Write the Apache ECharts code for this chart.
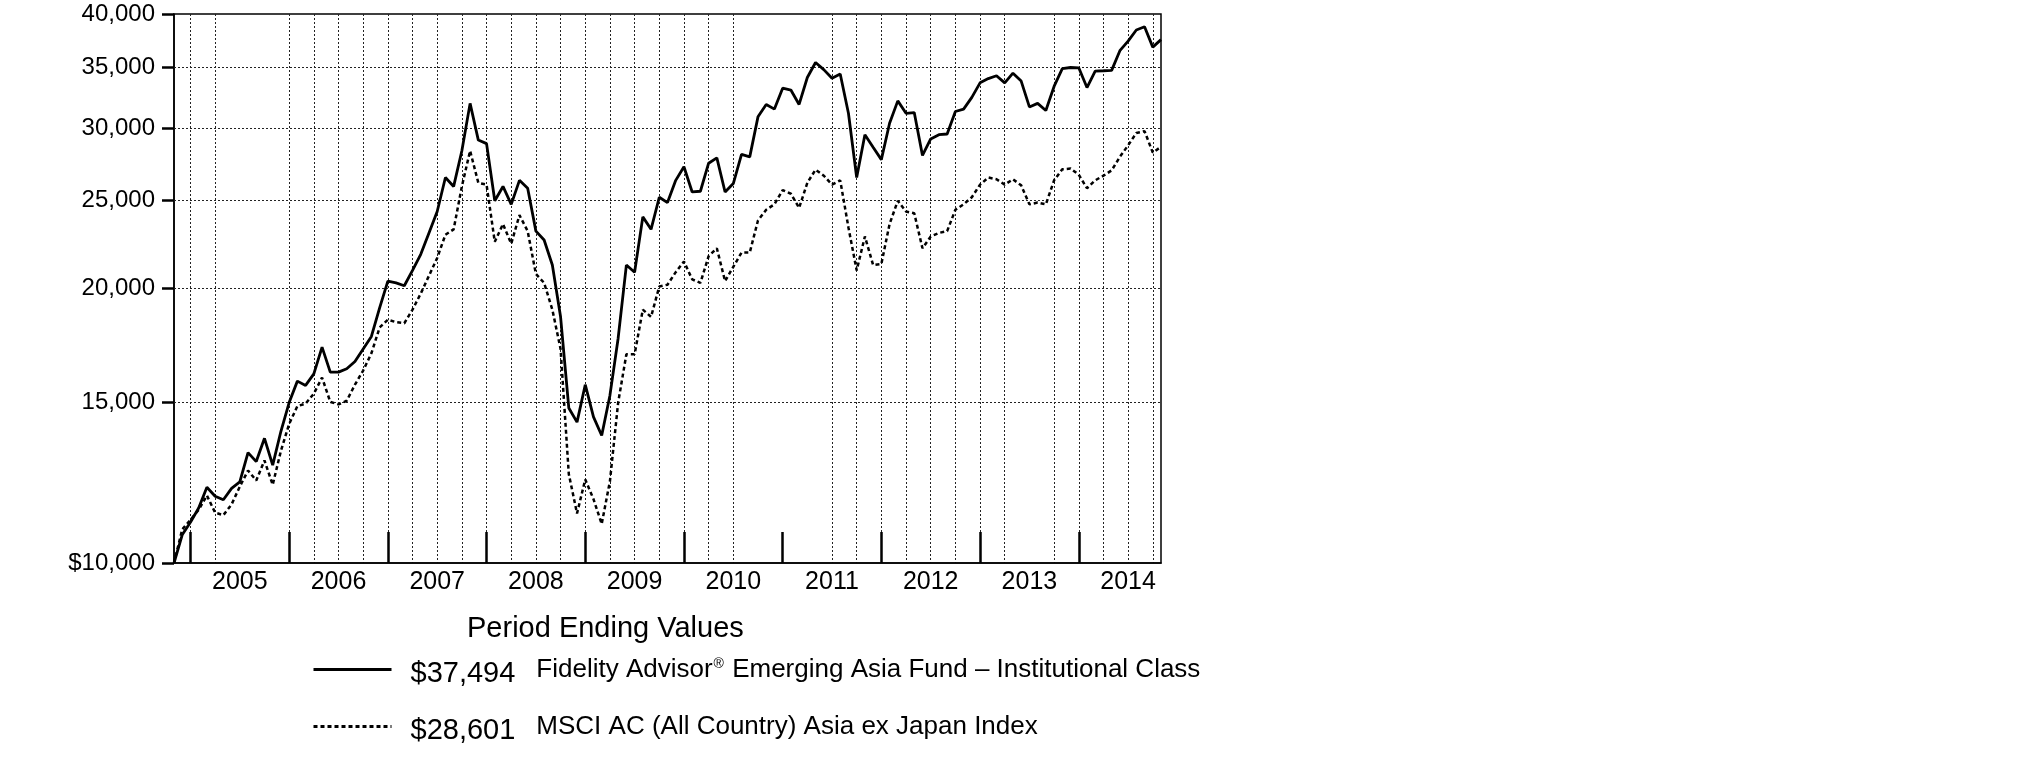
<!DOCTYPE html>
<html>
<head>
<meta charset="utf-8">
<script src="https://cdn.jsdelivr.net/npm/echarts@6/dist/echarts.min.js"></script>
<style>
html,body{margin:0;padding:0;background:#fff;}
#chart{width:2025px;height:773px;}
</style>
</head>
<body>
<div id="chart"></div>
<script>
// ---------- data ----------
const startYear = 2004, startMonth = 10, monthCount = 121; // Oct 2004 .. Oct 2014 (month ends)
const months = [];
for (let k = 0; k < monthCount; k++) {
  const m = startMonth - 1 + k;
  months.push((startYear + Math.floor(m / 12)) + '-' + String(m % 12 + 1).padStart(2, '0'));
}

const seriesNames = [
  'Fidelity Advisor\u00AE Emerging Asia Fund \u2013 Institutional Class',
  'MSCI AC (All Country) Asia ex Japan Index'
];

const fundValues = [
  10000, 10738, 11083, 11490, 12106, 11838, 11732, 12073, 12271, 13214, 12919, 13700,
  12803, 13946, 14995, 15829, 15658, 16120, 17246, 16193, 16193, 16332, 16634, 17169,
  17720, 19046, 20376, 20284, 20138, 20933, 21800, 23014, 24292, 26470, 25880, 28318,
  31918, 29094, 28834, 24958, 25880, 24735, 26280, 25763, 23118, 22604, 21220, 18620,
  14791, 14271, 15687, 14461, 13800, 15268, 17642, 21220, 20841, 23964, 23223, 25184,
  24846, 26280, 27196, 25521, 25568, 27442, 27816, 25521, 26069, 28064, 27887, 30851,
  31832, 31461, 33163, 33013, 31832, 34075, 35390, 34758, 34013, 34384, 31131, 26470,
  29490, 28574, 27691, 30356, 32120, 31131, 31187, 27988, 29173, 29490, 29543, 31272,
  31461, 32410, 33617, 33982, 34229, 33617, 34446, 33770, 31632, 31918, 31348, 33313,
  34852, 34946, 34920, 33223, 34633, 34660, 34690, 36460, 37358, 38418, 38730, 36790,
  37494
];

const indexValues = [
  10000, 10885, 11153, 11438, 11859, 11356, 11284, 11595, 12128, 12631, 12316, 12954,
  12183, 13274, 14207, 14860, 14954, 15337, 15972, 15022, 14927, 15063, 15687, 16259,
  16983, 18123, 18486, 18369, 18320, 18961, 19746, 20654, 21605, 22911, 23223, 25880,
  28318, 26115, 25997, 22502, 23536, 22395, 24073, 23118, 20748, 20284, 18961, 17169,
  12518, 11335, 12349, 11752, 11035, 12294, 14995, 16937, 16937, 18961, 18620, 20101,
  20192, 20841, 21411, 20468, 20284, 21702, 22137, 20376, 21125, 21899, 21899, 23748,
  24402, 24735, 25637, 25407, 24512, 26115, 27001, 26590, 25997, 26280, 23329, 20933,
  22809, 21220, 21278, 23536, 24958, 24292, 24183, 22137, 22809, 23014, 23118, 24402,
  24735, 25184, 25997, 26470, 26351, 25997, 26351, 25950, 24735, 24846, 24735, 26280,
  27025, 27074, 26661, 25763, 26280, 26590, 26952, 27887, 28707, 29620, 29754, 28191,
  28601
];

const yTicks = [10000, 15000, 20000, 25000, 30000, 35000, 40000];
const yGridLines = [15000, 20000, 25000, 30000, 35000];
const quarterLines = [
  '2004-12', '2005-03', '2005-12', '2006-03', '2006-06', '2006-09', '2006-12',
  '2007-03', '2007-06', '2007-09', '2007-12', '2008-03', '2008-06', '2008-09', '2008-12',
  '2009-03', '2009-06', '2009-09', '2009-12', '2010-03', '2010-06',
  '2011-06', '2011-09', '2011-12', '2012-03', '2012-06', '2012-09', '2012-12',
  '2013-03', '2013-09', '2013-12', '2014-03', '2014-06', '2014-09'
];
const titleText = 'Period Ending Values';

// ---------- chart ----------
const FONT = '"Liberation Sans", Arial, Helvetica, sans-serif';
const fmtMoney = v => '$' + Math.round(v).toLocaleString('en-US');
const chart = echarts.init(document.getElementById('chart'), null, { renderer: 'canvas' });

const option = {
  animation: false,
  backgroundColor: '#fff',
  textStyle: { fontFamily: FONT, color: '#000' },
  title: {
    text: titleText,
    left: 467, top: 614, padding: 0,
    textStyle: { fontFamily: FONT, fontSize: 29, fontWeight: 'normal', color: '#000' }
  },
  legend: {
    orient: 'vertical',
    left: 312, top: 651, padding: 0,
    itemWidth: 78, itemHeight: 14, itemGap: 20,
    selectedMode: false,
    data: seriesNames,
    itemStyle: { opacity: 0, color: 'rgba(0,0,0,0)', borderWidth: 0 },
    lineStyle: { width: 3, color: '#000' },
    formatter: function (name) {
      const idx = seriesNames.indexOf(name);
      const vals = idx === 0 ? fundValues : indexValues;
      const val = fmtMoney(vals[vals.length - 1]);
      const parts = name.split('\u00AE');
      let label = '{v|' + val + '}{n|' + parts[0] + '}';
      if (parts.length > 1) label += '{s|\u00AE}{n|' + parts[1] + '}';
      return label;
    },
    textStyle: {
      fontFamily: FONT, color: '#000',
      rich: {
        v: { fontFamily: FONT, fontSize: 29, color: '#000', padding: [8, 21, 0, 14], lineHeight: 34 },
        n: { fontFamily: FONT, fontSize: 26, color: '#000', lineHeight: 34 },
        s: { fontFamily: FONT, fontSize: 14, color: '#000', padding: [0, 1, 10, 1], lineHeight: 34 }
      }
    }
  },
  grid: {
    left: 174, right: 864, top: 14, bottom: 210,
    show: true, borderColor: '#000', borderWidth: 1.5, backgroundColor: 'transparent',
    containLabel: false
  },
  xAxis: {
    type: 'category',
    data: months,
    boundaryGap: false,
    axisLine: { show: true, lineStyle: { color: '#000', width: 1.5 } },
    axisTick: {
      show: true, inside: true, length: 31,
      interval: function (i, v) { return String(v).slice(5) === '12'; },
      lineStyle: { color: '#000', width: 2.5 }
    },
    axisLabel: {
      show: true,
      interval: function (i, v) { return String(v).slice(5) === '06'; },
      formatter: function (v) { return String(v).slice(0, 4); },
      fontFamily: FONT, fontSize: 25, color: '#000', margin: 7
    },
    splitLine: {
      show: true,
      interval: function (i, v) { return quarterLines.indexOf(String(v)) >= 0; },
      lineStyle: { color: '#222', width: 1, type: [2, 2] }
    }
  },
  yAxis: {
    type: 'log', logBase: 10, min: 10000, max: 40000,
    axisLine: { show: true, lineStyle: { color: '#000', width: 1.5 } },
    axisTick: { show: true, length: 12, customValues: yTicks, lineStyle: { color: '#000', width: 2.5 } },
    axisLabel: {
      show: true, customValues: yTicks,
      formatter: function (v) { v = Math.round(v); return v === 10000 ? fmtMoney(v) : v.toLocaleString('en-US'); },
      fontFamily: FONT, fontSize: 24, color: '#000', margin: 19
    },
    splitLine: { show: false },
    minorTick: { show: false },
    minorSplitLine: { show: false }
  },
  series: [
    {
      name: seriesNames[0], type: 'line', data: fundValues,
      symbol: 'none', showSymbol: false, z: 4,
      lineStyle: { color: '#000', width: 2.8, type: 'solid' },
      itemStyle: { color: '#000' },
      markLine: {
        silent: true, symbol: 'none', z: 1, animation: false,
        label: { show: false },
        lineStyle: { color: '#222', width: 1, type: [2, 2] },
        data: yGridLines.map(v => ({ yAxis: v }))
      }
    },
    {
      name: seriesNames[1], type: 'line', data: indexValues,
      symbol: 'none', showSymbol: false, z: 3,
      lineStyle: { color: '#000', width: 2.5, type: [4, 3] },
      itemStyle: { color: '#000' }
    }
  ]
};
chart.setOption(option);
</script>
</body>
</html>
